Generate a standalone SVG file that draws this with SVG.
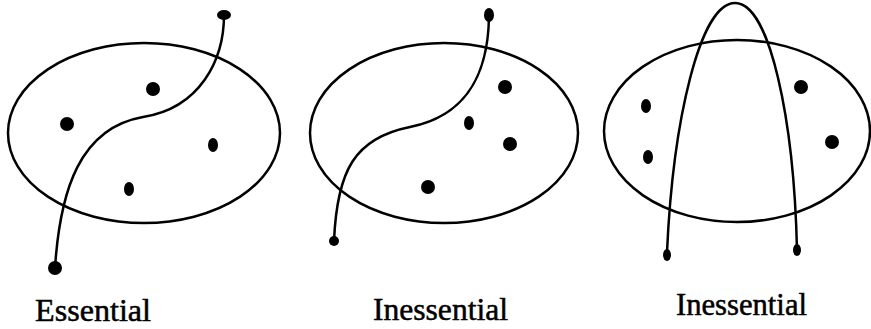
<svg xmlns="http://www.w3.org/2000/svg" width="871" height="329" viewBox="0 0 871 329">
<style>
.set{fill:none;stroke:#000;stroke-width:2.5}
.cut{fill:none;stroke:#000;stroke-width:2.5}
.pt{fill:#000}
.lbl{font-family:"Liberation Serif","Times New Roman",serif;font-size:31px;fill:#000;stroke:#000;stroke-width:0.5}
</style>
<rect width="871" height="329" fill="#fff"/>
<g id="panel1">
<ellipse class="set" cx="144" cy="133" rx="136" ry="90"/>
<circle class="pt" cx="153" cy="89" r="7"/>
<circle class="pt" cx="67" cy="124" r="7"/>
<ellipse class="pt" cx="213" cy="145" rx="5" ry="7"/>
<ellipse class="pt" cx="129" cy="189" rx="5" ry="7"/>
<ellipse class="pt" cx="224" cy="15" rx="7" ry="5"/>
<circle class="pt" cx="55" cy="268" r="7"/>
<text class="lbl" x="35" y="321" textLength="116" lengthAdjust="spacingAndGlyphs">Essential</text>
</g>
<g id="panel2">
<ellipse class="set" cx="444" cy="133" rx="134" ry="90"/>
<circle class="pt" cx="505" cy="87" r="7"/>
<ellipse class="pt" cx="469" cy="123" rx="5" ry="7"/>
<circle class="pt" cx="510" cy="144" r="7"/>
<circle class="pt" cx="428" cy="187" r="7"/>
<ellipse class="pt" cx="489" cy="15" rx="5" ry="7"/>
<circle class="pt" cx="334" cy="241" r="5"/>
<text class="lbl" x="373" y="320" textLength="135" lengthAdjust="spacingAndGlyphs">Inessential</text>
</g>
<g id="panel3">
<ellipse class="set" cx="737" cy="131" rx="133" ry="91"/>
<ellipse class="pt" cx="646" cy="106" rx="5" ry="7"/>
<ellipse class="pt" cx="648" cy="157" rx="5" ry="7"/>
<circle class="pt" cx="801" cy="87" r="7"/>
<circle class="pt" cx="832" cy="142" r="7"/>
<ellipse class="pt" cx="667" cy="255" rx="4" ry="6"/>
<ellipse class="pt" cx="797" cy="250" rx="4" ry="6"/>
<text class="lbl" x="676" y="315" textLength="131" lengthAdjust="spacingAndGlyphs">Inessential</text>
</g>
<g id="connectors">
<path class="cut" d="M224,15 C224,60 200,108 143,117 C80,128 60,190 55,268"/>
<path class="cut" d="M489,17 C488,70 470,115 410,127 C355,138 337,170 334,241"/>
<path class="cut" d="M667,252 C673,120 700,3 735,3 C770,3 794,120 797,250"/>
</g>
</svg>
